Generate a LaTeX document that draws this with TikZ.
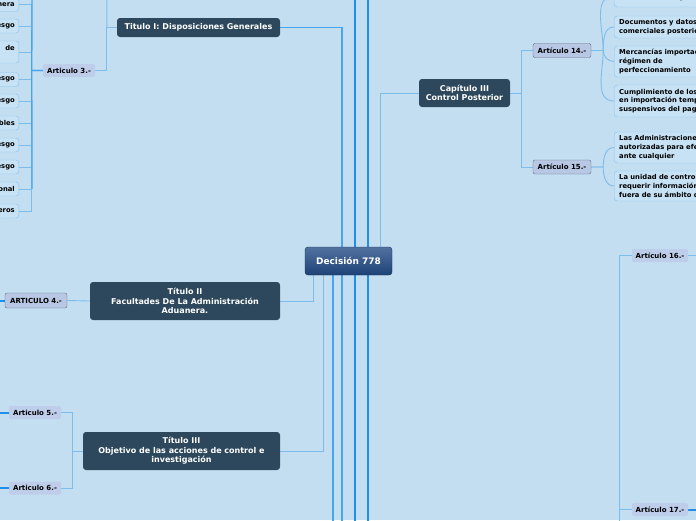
\documentclass[tikz,border=0pt]{standalone}
\usepackage{fontspec}
\setmainfont{DejaVu Sans}
\pgfdeclarelayer{bg}
\pgfsetlayers{bg,main}
\definecolor{bgc}{RGB}{196,222,241}
\definecolor{darkn}{RGB}{45,72,92}
\definecolor{dectop}{RGB}{82,114,160}
\definecolor{decbot}{RGB}{30,66,118}
\definecolor{decbord}{RGB}{22,50,87}
\definecolor{artfill}{RGB}{190,205,234}
\definecolor{artbfill}{RGB}{184,199,227}
\definecolor{artbord}{RGB}{95,108,128}
\definecolor{leaffill}{RGB}{200,226,245}
\definecolor{leafbord}{RGB}{135,196,240}
\definecolor{lightl}{RGB}{124,189,236}
\definecolor{medl}{RGB}{70,165,238}
\definecolor{brightl}{RGB}{30,144,235}
\tikzset{
  dark/.style={fill=darkn, rounded corners=3pt, text=white, align=center, inner sep=0pt,
    font=\fontsize{8}{9.5}\selectfont\bfseries},
  decn/.style={top color=dectop, bottom color=decbot, draw=decbord, rounded corners=3pt,
    text=white, inner sep=0pt, font=\fontsize{9}{10}\selectfont\bfseries},
  artA/.style={fill=artfill, rounded corners=2pt, inner sep=0pt, minimum height=13pt,
    font=\fontsize{7}{8}\selectfont\bfseries},
  artB/.style={fill=artbfill, draw=artbord, rounded corners=2pt, inner sep=0pt, minimum height=14pt,
    font=\fontsize{7}{8}\selectfont\bfseries},
  rleaf/.style={fill=leaffill, draw=leafbord, rounded corners=3pt, anchor=west, align=left,
    text width=150pt, inner xsep=5pt, inner ysep=0pt, font=\fontsize{6.8}{8.8}\selectfont\bfseries},
  lleaf/.style={fill=leaffill, draw=leafbord, rounded corners=3pt, anchor=east, align=right,
    text width=60pt, inner xsep=4pt, inner ysep=0pt, minimum height=14pt,
    font=\fontsize{6.8}{8.8}\selectfont\bfseries},
  lt/.style={draw=lightl, line width=0.9pt},
  md/.style={draw=medl, line width=1.3pt},
  bt/.style={draw=brightl, line width=2pt}
}
\begin{document}
\begin{tikzpicture}[x=1pt,y=-1pt]
\useasboundingbox (0,0) rectangle (696,520);
\clip (0,0) rectangle (696,520);
\begin{pgfonlayer}{bg}
\fill[bgc] (0,0) rectangle (696,520);
\end{pgfonlayer}

% central and main nodes
\node[decn, minimum width=87pt, minimum height=28pt] (dec) at (348.5,261) {Decisión 778};
\node[dark, minimum width=163pt, minimum height=19pt] (t1) at (198.5,27.5) {Titulo I: Disposiciones Generales};
\node[dark, minimum width=91pt, minimum height=28pt] (cap3) at (464.5,93) {Capítulo III\\Control Posterior};
\node[dark, minimum width=190pt, minimum height=38pt] (t2) at (185,301) {Título II\\Facultades De La Administración\\Aduanera.};
\node[dark, minimum width=197pt, minimum height=38pt] (t3) at (181.5,451) {Título III\\Objetivo de las acciones de control e\\investigación};

% article nodes
\node[artA, minimum width=52pt] (art3) at (69,70.5) {Articulo 3.-};
\node[artB, minimum width=58pt] (art14) at (562,50.5) {Artículo 14.-};
\node[artB, minimum width=58pt] (art15) at (562,167) {Artículo 15.-};
\node[artB, minimum width=62pt, minimum height=15pt] (art4) at (36,300.5) {ARTICULO 4.-};
\node[artA, minimum width=52pt] (art5) at (35,412.5) {Articulo 5.-};
\node[artA, minimum width=52pt] (art6) at (35,488) {Articulo 6.-};
\node[artA, minimum width=56pt] (art16) at (660,255.5) {Artículo 16.-};
\node[artA, minimum width=56pt] (art17) at (660,509.5) {Artículo 17.-};

% right leaves
\node[rleaf, minimum height=22pt] (r1) at (614,-4) {~\\relativos a las operaciones};
\node[rleaf, minimum height=22pt] (r2) at (614,27) {Documentos y datos\\comerciales posteriores};
\node[rleaf, minimum height=31pt] (r3) at (614,61.5) {Mercancías importadas\\régimen de\\ perfeccionamiento};
\node[rleaf, minimum height=32pt] (r4) at (614,101) {Cumplimiento de los\\en importación temporal\\suspensivos del pago};
\node[rleaf, minimum height=31pt] (r5) at (614,147.5) {Las Administraciones\\autorizadas para efectuar\\ante cualquier};
\node[rleaf, minimum height=30pt] (r6) at (614,186) {La unidad de control\\requerir información\\fuera de su ámbito de};

% left leaves
\node[lleaf] (l1) at (19,4.5) {nera};
\node[lleaf] (l2) at (19,26) {esgo};
\node[lleaf, minimum height=22pt] (l3) at (19,52) {de\hspace*{6pt}\\~};
\node[lleaf] (l4) at (19,79.5) {esgo};
\node[lleaf] (l5) at (19,101) {esgo};
\node[lleaf] (l6) at (19,123) {bles};
\node[lleaf] (l7) at (19,145) {esgo};
\node[lleaf] (l8) at (19,167) {esgo};
\node[lleaf] (l9) at (19,189) {onal};
\node[lleaf] (l10) at (19,211) {eros};

% free ends
\coordinate (topA) at (107,-10);
\coordinate (topB) at (32,-10);
\coordinate (trunkEnd) at (32,189);
\coordinate (topC) at (355,-10);
\coordinate (topD) at (368,-10);
\coordinate (botA) at (333,530);
\coordinate (botB) at (342,530);
\coordinate (botC) at (355,530);
\coordinate (botD) at (368,530);
\coordinate (botE) at (619,530);
\coordinate (left4) at (-10,300.5);
\coordinate (left5) at (-10,412.5);
\coordinate (left6) at (-10,488);
\coordinate (right16) at (706,255.5);
\coordinate (right17) at (706,509.5);

\begin{pgfonlayer}{bg}
% from Decision
\draw[md] ([xshift=-6.5pt]dec.north) |- (t1.east);
\draw[lt] ([xshift=31.5pt]dec.north) |- (cap3.west);
\draw[lt] ([xshift=-35.5pt]dec.south) |- (t2.east);
\draw[lt] ([xshift=-25.5pt]dec.south) |- (t3.east);
\draw[md] ([xshift=-15.5pt]dec.south) -- (botA);
\draw[md] ([xshift=-6.5pt]dec.south) -- (botB);
\draw[bt] (topC) -- (botC);
\draw[bt] (topD) -- (botD);

% Titulo I
\draw[lt] (t1.west) -- ++(-10,0) |- (art3.east);
\draw[lt] (t1.west) -- ++(-10,0) -- (topA);
\foreach \n in {l1,l2,l3,l4,l5,l6,l7,l8,l9,l10}{
  \draw[lt] (art3.west) -- ++(-11,0) |- (\n.east);
}
\draw[md] (art3.west) -- ++(-11,0) -- (topB);
\draw[md] (art3.west) -- ++(-11,0) -- (trunkEnd);

% Capitulo III
\draw[lt] (cap3.east) -- ++(11,0) |- (art14.west);
\draw[lt] (cap3.east) -- ++(11,0) |- (art15.west);
\foreach \n in {r1,r2}{
  \draw[lt] (art14.east) -- ++(12,0) to[out=90,in=180] (\n.west);
}
\foreach \n in {r3,r4}{
  \draw[lt] (art14.east) -- ++(12,0) to[out=-90,in=180] (\n.west);
}
\draw[lt] (art15.east) -- ++(12,0) to[out=90,in=180] (r5.west);
\draw[lt] (art15.east) -- ++(12,0) to[out=-90,in=180] (r6.west);

% Titulo II / III
\draw[lt] (t2.west) -- (art4.east);
\draw[bt] (art4.west) -- (left4);
\draw[lt] (t3.west) -- ++(-10,0) |- (art5.east);
\draw[lt] (t3.west) -- ++(-10,0) |- (art6.east);
\draw[bt] (art5.west) -- (left5);
\draw[bt] (art6.west) -- (left6);

% Articulo 16 / 17
\draw[lt] (botE) |- (art16.west);
\draw[lt] (botE) |- (art17.west);
\draw[lt] (art16.east) -- (right16);
\draw[bt] (art17.east) -- (right17);
\end{pgfonlayer}
\end{tikzpicture}
\end{document}
